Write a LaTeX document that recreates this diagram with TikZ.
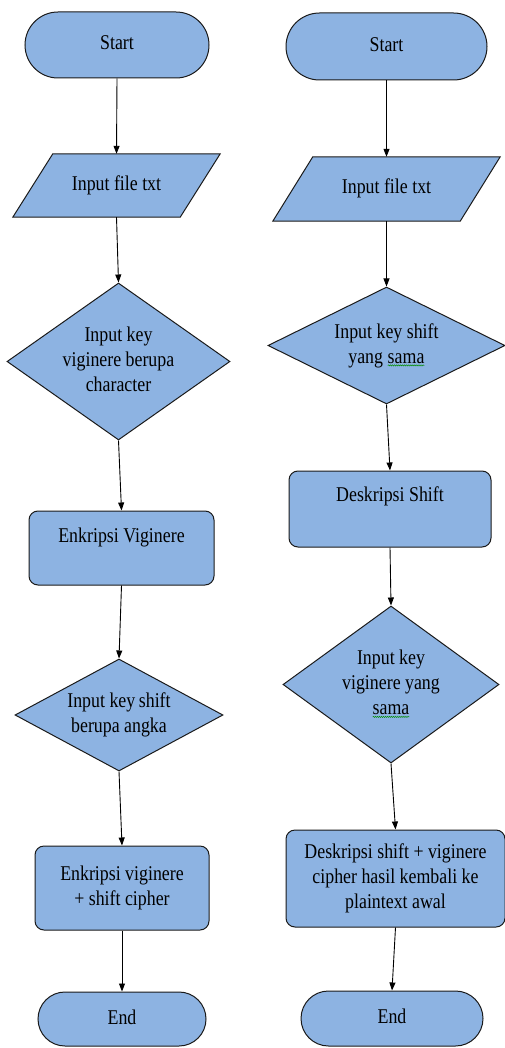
\documentclass[tikz,border=0pt]{standalone}
\usepackage{fontspec}
\setmainfont{Liberation Serif}
\usetikzlibrary{shapes.geometric,shapes.misc,arrows.meta,backgrounds,decorations.pathmorphing}
\definecolor{boxblue}{HTML}{8DB3E2}
\definecolor{edge}{HTML}{1A1A1A}
\newcommand{\sqw}[1]{\tikz[baseline=(sqw.base)]{\node[inner sep=0pt,outer sep=0pt,draw=none,fill=none,shape=rectangle,minimum size=0pt] (sqw) {#1};\draw[draw=green!55!black,line width=0.5pt,decorate,decoration={snake,amplitude=0.6pt,segment length=2.4pt}] ([yshift=-2.2pt]sqw.south west) -- ([yshift=-2.2pt]sqw.south east);}}
\newcommand{\cond}[1]{\scalebox{0.85}[1]{\begin{tabular}{@{}c@{}}#1\end{tabular}}}
\tikzset{
  base/.style={draw=edge,fill=boxblue,line width=1pt,inner sep=0pt,align=center,font=\fontsize{21}{25}\selectfont},
  term/.style={base,rounded rectangle},
  proc/.style={base,rectangle,rounded corners=9pt},
  dec/.style={base,diamond},
  txt/.style={draw=none,fill=none,inner sep=0pt,align=center,font=\fontsize{21}{25}\selectfont},
  iobox/.style={txt},
  para/.style={draw=edge,fill=boxblue,line width=1pt},
  arr/.style={draw=black,line width=0.9pt,-{Triangle[length=8pt,width=6pt]}}
}
\begin{document}
\begin{tikzpicture}[x=1pt,y=-1pt]
\useasboundingbox (0,0) rectangle (505,1048);
% left column
\node[term,minimum width=184pt,minimum height=66pt] (s1) at (117,45) {\cond{Start}};
\node[iobox,minimum width=207pt,minimum height=63pt] (p1) at (116.5,185.5) {\cond{Input file txt}};
\node[dec,minimum width=223pt,minimum height=157pt] (d1) at (118.5,361.5) {};
\node[txt] (d1t) at (d1.center) {\cond{Input key\\viginere berupa\\character}};
\node[proc,minimum width=185pt,minimum height=74pt] (r1) at (121.5,548) {};
\node[txt] (r1t) at ([yshift=11pt]r1.center) {\cond{Enkripsi Viginere}};
\node[dec,minimum width=208pt,minimum height=112pt] (d2) at (119,715) {};
\node[txt] (d2t) at (d2.center) {\cond{Input key\hspace{-1pt} shift\\berupa angka}};
\node[proc,minimum width=174pt,minimum height=84pt] (r2) at (122,888) {\cond{Enkripsi viginere\\+ shift cipher}};
\node[term,minimum width=168pt,minimum height=54pt] (e1) at (122,1019) {\cond{End}};
% right column
\node[term,minimum width=201pt,minimum height=67pt] (s2) at (386.5,46.5) {\cond{Start}};
\node[iobox,minimum width=227pt,minimum height=64pt] (p2) at (386.5,189) {\cond{Input file txt}};
\node[dec,minimum width=237pt,minimum height=117pt] (d3) at (386.5,345.5) {};
\node[txt] (d3t) at (d3.center) {\cond{Input key shift\\yang \sqw{sama}}};
\node[proc,minimum width=202pt,minimum height=76pt] (r3) at (390,509) {};
\node[txt] (r3t) at ([yshift=13pt]r3.center) {\cond{Deskripsi Shift}};
\node[dec,minimum width=216pt,minimum height=157pt] (d4) at (391,684.5) {};
\node[txt] (d4t) at (d4.center) {\cond{Input key\\viginere yang\\\sqw{sama}}};
\node[proc,minimum width=219pt,minimum height=97pt] (r4) at (395.5,878.5) {\cond{Deskripsi shift + viginere\\cipher hasil kembali ke\\plaintext awal}};
\node[term,minimum width=182pt,minimum height=55pt] (e2) at (392,1018.5) {\cond{End}};
% parallelogram outlines
\begin{scope}[on background layer]
\draw[para] ([xshift=40pt]p1.north west) -- (p1.north east) -- ([xshift=-40pt]p1.south east) -- (p1.south west) -- cycle;
\draw[para] ([xshift=40pt]p2.north west) -- (p2.north east) -- ([xshift=-40pt]p2.south east) -- (p2.south west) -- cycle;
\end{scope}
% connectors
\draw[arr] (s1.south) -- (p1.north);
\draw[arr] (p1.south) -- (d1.north);
\draw[arr] (d1.south) -- (r1.north);
\draw[arr] (r1.south) -- (d2.north);
\draw[arr] (d2.south) -- (r2.north);
\draw[arr] (r2.south) -- (e1.north);
\draw[arr] (s2.south) -- (p2.north);
\draw[arr] (p2.south) -- (d3.north);
\draw[arr] (d3.south) -- (r3.north);
\draw[arr] (r3.south) -- (d4.north);
\draw[arr] (d4.south) -- (r4.north);
\draw[arr] (r4.south) -- (e2.north);
\end{tikzpicture}
\end{document}
